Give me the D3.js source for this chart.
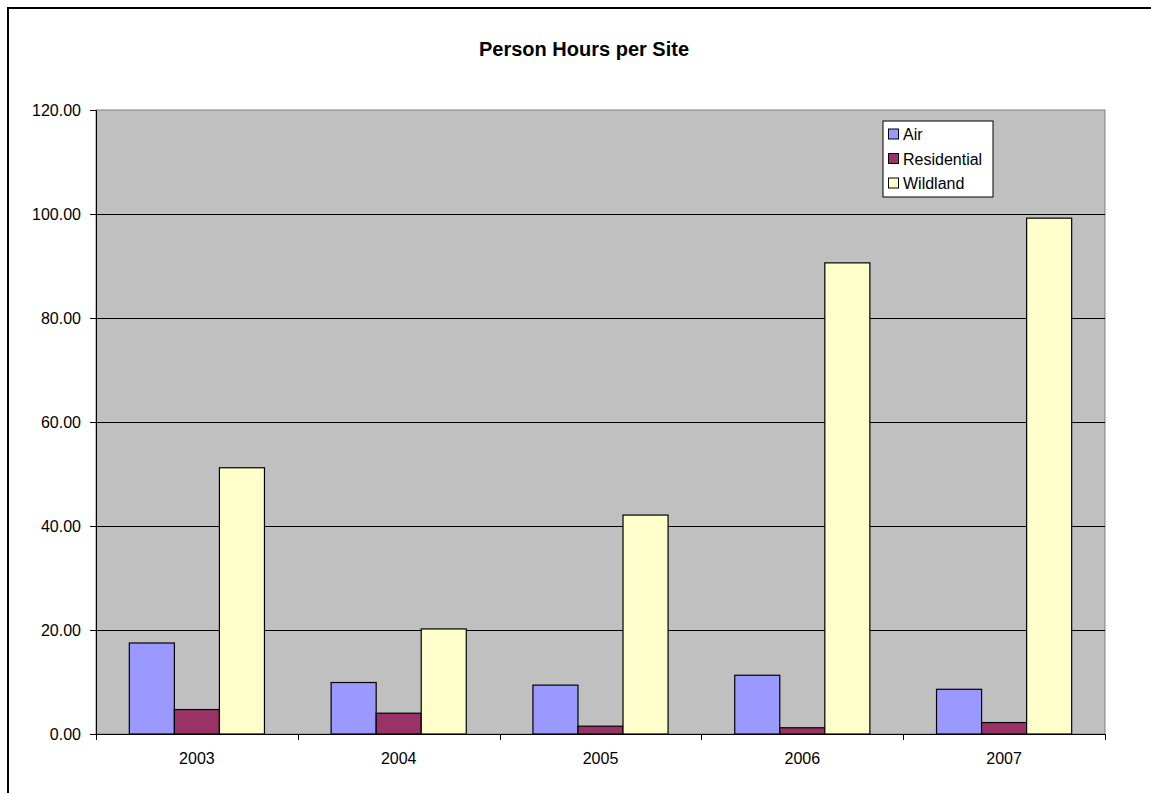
<!DOCTYPE html>
<html>
<head>
<meta charset="utf-8">
<script src="https://cdn.jsdelivr.net/npm/d3@7"></script>
<style>
  body { margin: 0; background: #fff; }
  svg text { font-family: "Liberation Sans", Arial, sans-serif; fill: #000; }
</style>
</head>
<body>
<div id="main"></div>
<script>
'use strict'

// chart data
const years = ["2003", "2004", "2005", "2006", "2007"];
const seriesNames = ["Air", "Residential", "Wildland"];
const airValues = [17.5, 9.9, 9.4, 11.3, 8.6];
const residentialValues = [4.7, 4.0, 1.5, 1.2, 2.2];
const wildlandValues = [51.2, 20.2, 42.1, 90.6, 99.2];
const yTicks = [0, 20, 40, 60, 80, 100, 120];

const seriesColors = ["#9999FF", "#993366", "#FFFFCC"];

document.addEventListener('DOMContentLoaded', function(){
  drawBarChart();
});

function drawBarChart(){
  let svgWidth = 1151;
  let svgHeight = 793;

  let plotLeft = 96, plotRight = 1105, plotTop = 110, plotBottom = 734;

  let svg = d3.select('#main')
    .append('svg')
    .attr('width', svgWidth)
    .attr('height', svgHeight);

  //outer frame (runs off the picture on right/bottom)
  svg.append("rect")
    .attr("x", 8).attr("y", 8)
    .attr("width", 1160).attr("height", 800)
    .attr("fill", "#fff")
    .attr("stroke", "#000")
    .attr("stroke-width", 2);

  //title
  svg.append("text")
    .text("Person Hours per Site")
    .attr("x", 584)
    .attr("y", 56)
    .attr("text-anchor", "middle")
    .style("font-size", "20px")
    .style("font-weight", "bold");

  let rows = years.map((y, i) => ({
    year: y,
    values: [airValues[i], residentialValues[i], wildlandValues[i]]
  }));

  //scales
  let x0 = d3.scaleBand()
    .domain(years)
    .range([plotLeft, plotRight])
    .padding(0);

  let x1 = d3.scaleBand()
    .domain(seriesNames)
    .range([0, x0.bandwidth()])
    .paddingInner(0)
    .paddingOuter(0.74);

  let yScale = d3.scaleLinear()
    .domain([0, 120])
    .range([plotBottom, plotTop]);

  //plot background
  svg.append("rect")
    .attr("x", plotLeft).attr("y", plotTop)
    .attr("width", plotRight - plotLeft)
    .attr("height", plotBottom - plotTop)
    .attr("fill", "#C0C0C0")
    .attr("stroke", "#808080")
    .attr("stroke-width", 1);

  //gridlines
  svg.append("g")
    .selectAll("line")
    .data(yTicks.filter(t => t > 0 && t < 120))
    .enter()
    .append("line")
    .attr("x1", plotLeft).attr("x2", plotRight)
    .attr("y1", d => Math.round(yScale(d)) + 0.5)
    .attr("y2", d => Math.round(yScale(d)) + 0.5)
    .attr("stroke", "#000")
    .attr("stroke-width", 1);

  //bars
  let groups = svg.append("g")
    .selectAll("g")
    .data(rows)
    .enter()
    .append("g")
    .attr("transform", d => "translate(" + x0(d.year) + ",0)");

  groups.selectAll("rect")
    .data(d => d.values.map((v, i) => ({ name: seriesNames[i], value: v, idx: i })))
    .enter()
    .append("rect")
    .attr("x", d => x1(d.name))
    .attr("y", d => yScale(d.value))
    .attr("width", x1.bandwidth())
    .attr("height", d => plotBottom - yScale(d.value))
    .attr("fill", d => seriesColors[d.idx])
    .attr("stroke", "#000")
    .attr("stroke-width", 1.2);

  //y axis
  const yAxis = d3.axisLeft(yScale)
    .tickValues(yTicks)
    .tickSizeOuter(0)
    .tickSize(6)
    .tickPadding(9)
    .tickFormat(d3.format(".2f"));

  let yG = svg.append("g")
    .attr("transform", "translate(" + plotLeft + ",0)")
    .call(yAxis);
  yG.selectAll("text").style("font-size", "16px");
  yG.select(".domain").attr("stroke", "#000");

  //x axis with ticks at category boundaries
  const xAxis = d3.axisBottom(x0)
    .tickSize(0)
    .tickPadding(19);

  let xG = svg.append("g")
    .attr("transform", "translate(0," + plotBottom + ")")
    .call(xAxis);
  xG.selectAll("text").style("font-size", "16px");
  xG.select(".domain").attr("stroke", "#000");

  let boundaries = years.map(y => x0(y)).concat([plotRight]);
  xG.selectAll(".sep")
    .data(boundaries)
    .enter()
    .append("line")
    .attr("class", "sep")
    .attr("x1", d => Math.round(d) + 0.5)
    .attr("x2", d => Math.round(d) + 0.5)
    .attr("y1", 0).attr("y2", 6)
    .attr("stroke", "#000");

  //legend
  let legend = svg.append("g").attr("transform", "translate(883,121)");
  legend.append("rect")
    .attr("x", 0).attr("y", 0)
    .attr("width", 110).attr("height", 76)
    .attr("fill", "#fff")
    .attr("stroke", "#000");

  let items = legend.selectAll(".item")
    .data(seriesNames)
    .enter()
    .append("g")
    .attr("class", "item")
    .attr("transform", (d, i) => "translate(0," + (13 + i * 24.5) + ")");

  items.append("rect")
    .attr("x", 5.5).attr("y", -5)
    .attr("width", 10).attr("height", 10)
    .attr("fill", (d, i) => seriesColors[i])
    .attr("stroke", "#000");

  items.append("text")
    .text(d => d)
    .attr("x", 20)
    .attr("y", 6)
    .style("font-size", "16px");
}
</script>
</body>
</html>
